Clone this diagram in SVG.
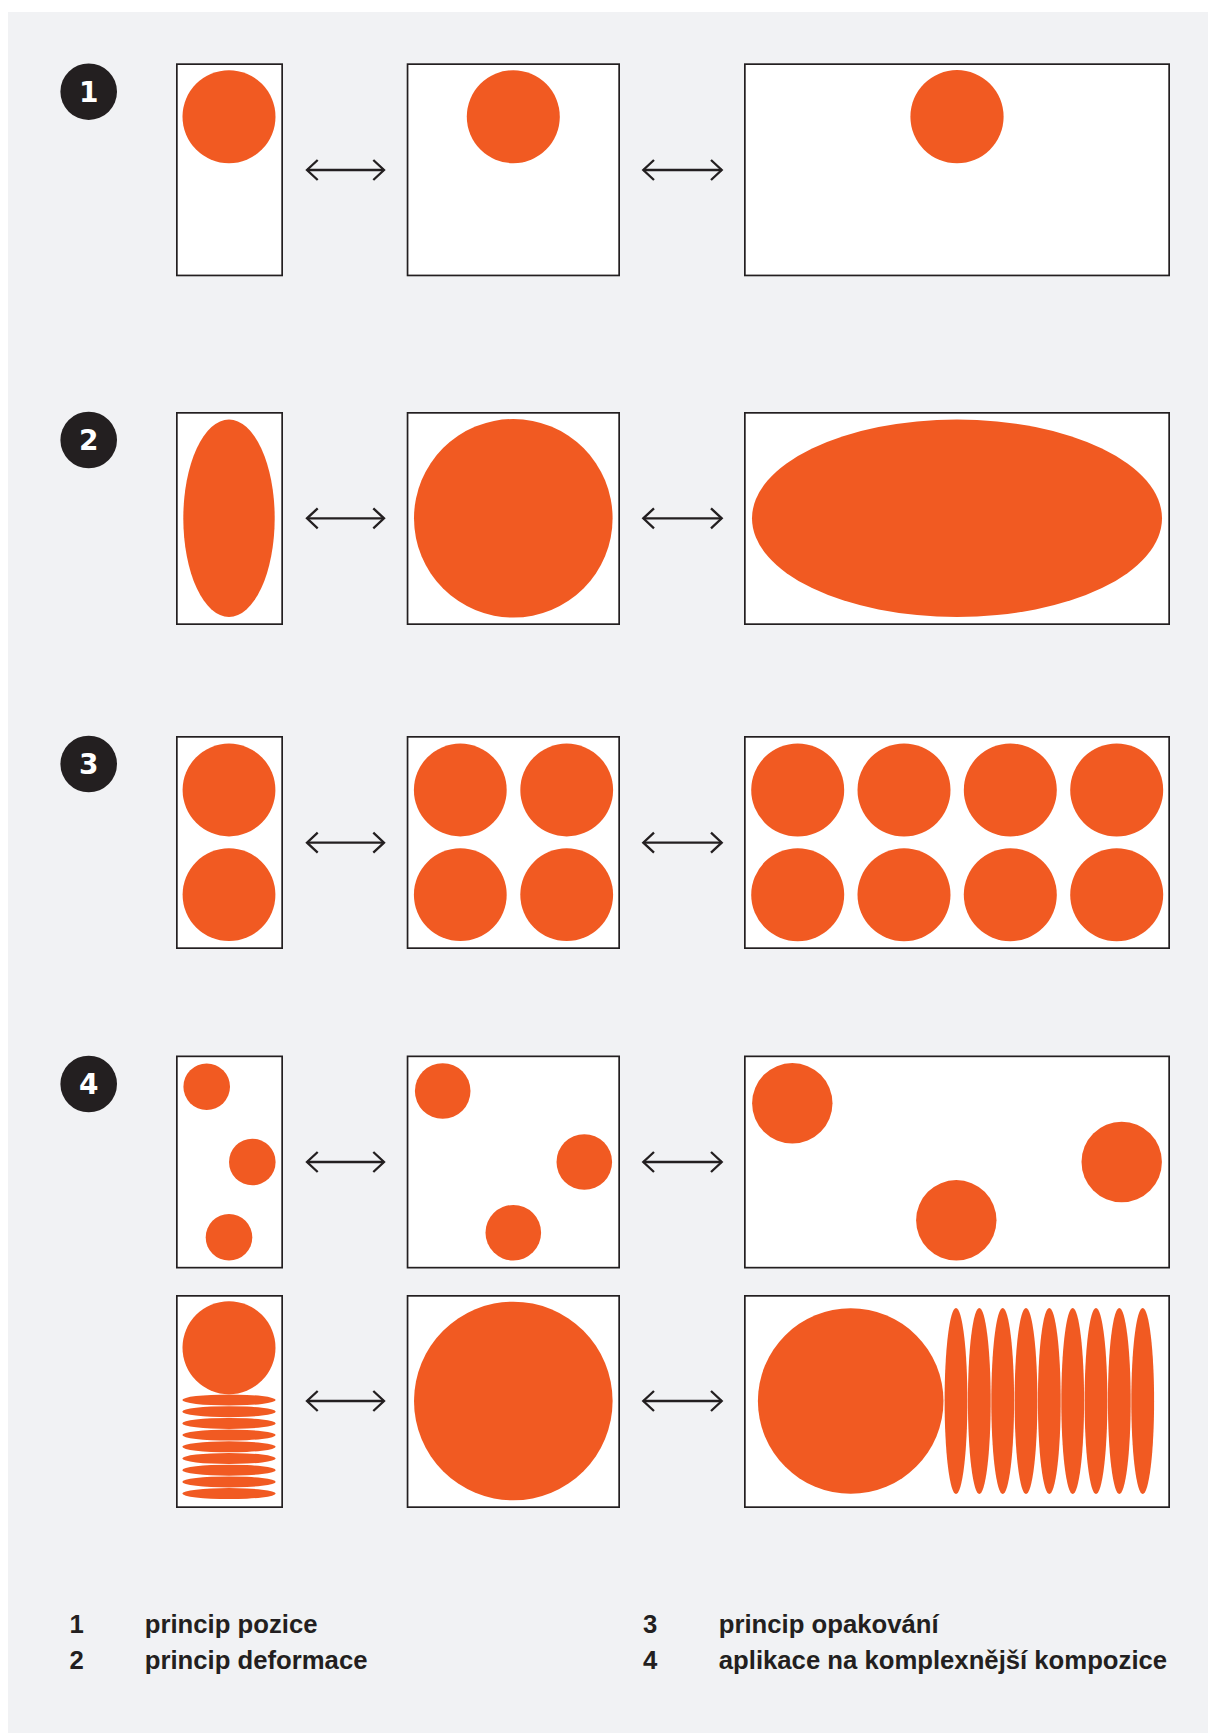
<svg xmlns="http://www.w3.org/2000/svg" width="1208" height="1733" viewBox="0 0 1208 1733">
<defs>
<style>
.frame{fill:#ffffff;stroke:#231f20;stroke-width:1.7}
.dot{fill:#f15a22}
.badge{fill:#231f20}
.bnum{font-family:"DejaVu Sans",sans-serif;font-weight:bold;font-size:28px;fill:#ffffff;text-anchor:middle}
.arrow{stroke:#231f20;stroke-width:2.3;fill:none;marker-start:url(#chev);marker-end:url(#chev)}
.leg{font-family:"Liberation Sans",Arial,sans-serif;font-weight:bold;font-size:25.7px;fill:#231f20}
</style>
<marker id="chev" viewBox="-13 -12 15 24" markerWidth="15" markerHeight="24" refX="0" refY="0" orient="auto-start-reverse" markerUnits="userSpaceOnUse">
<path d="M -10.7 -10 L 0 0 L -10.7 10" fill="none" stroke="#231f20" stroke-width="2.3"/>
</marker>
</defs>
<rect x="0" y="0" width="1208" height="1733" fill="#ffffff"/>
<rect x="8" y="12" width="1200" height="1721" fill="#f1f2f4"/>

<g id="badge-1"><circle class="badge" cx="88.7" cy="91.7" r="28.3"/><text class="bnum" x="88.7" y="101.5">1</text></g>
<g id="badge-2"><circle class="badge" cx="88.7" cy="440" r="28.3"/><text class="bnum" x="88.7" y="449.8">2</text></g>
<g id="badge-3"><circle class="badge" cx="88.7" cy="764" r="28.3"/><text class="bnum" x="88.7" y="773.8">3</text></g>
<g id="badge-4"><circle class="badge" cx="88.7" cy="1084" r="28.3"/><text class="bnum" x="88.7" y="1093.8">4</text></g>

<!-- Row 1 -->
<g id="r1c1"><rect class="frame" x="176.85" y="64.15" width="105.3" height="211.3"/><circle class="dot" cx="229" cy="116.7" r="46.5"/></g>
<g id="r1c2"><rect class="frame" x="407.55" y="64.15" width="211.6" height="211.3"/><circle class="dot" cx="513.3" cy="116.7" r="46.5"/></g>
<g id="r1c3"><rect class="frame" x="744.85" y="64.15" width="424.3" height="211.3"/><circle class="dot" cx="957" cy="116.7" r="46.6"/></g>

<!-- Row 2 -->
<g id="r2c1"><rect class="frame" x="176.85" y="412.85" width="105.3" height="211.3"/><ellipse class="dot" cx="229" cy="518.3" rx="45.7" ry="98.7"/></g>
<g id="r2c2"><rect class="frame" x="407.55" y="412.85" width="211.6" height="211.3"/><circle class="dot" cx="513.3" cy="518.3" r="99.3"/></g>
<g id="r2c3"><rect class="frame" x="744.85" y="412.85" width="424.3" height="211.3"/><ellipse class="dot" cx="957" cy="518.3" rx="205" ry="98.7"/></g>

<!-- Row 3 -->
<g id="r3c1"><rect class="frame" x="176.85" y="736.85" width="105.3" height="211.3"/>
<circle class="dot" cx="229" cy="790" r="46.4"/><circle class="dot" cx="229" cy="894.7" r="46.4"/></g>
<g id="r3c2"><rect class="frame" x="407.55" y="736.85" width="211.6" height="211.3"/>
<circle class="dot" cx="460.3" cy="790" r="46.4"/><circle class="dot" cx="566.7" cy="790" r="46.4"/>
<circle class="dot" cx="460.3" cy="894.7" r="46.4"/><circle class="dot" cx="566.7" cy="894.7" r="46.4"/></g>
<g id="r3c3"><rect class="frame" x="744.85" y="736.85" width="424.3" height="211.3"/>
<circle class="dot" cx="797.7" cy="790" r="46.5"/><circle class="dot" cx="904" cy="790" r="46.5"/>
<circle class="dot" cx="1010.3" cy="790" r="46.5"/><circle class="dot" cx="1116.7" cy="790" r="46.5"/>
<circle class="dot" cx="797.7" cy="894.7" r="46.5"/><circle class="dot" cx="904" cy="894.7" r="46.5"/>
<circle class="dot" cx="1010.3" cy="894.7" r="46.5"/><circle class="dot" cx="1116.7" cy="894.7" r="46.5"/></g>

<!-- Row 4a -->
<g id="r4ac1"><rect class="frame" x="176.85" y="1056.35" width="105.3" height="211.3"/>
<circle class="dot" cx="206.7" cy="1086.7" r="23.3"/><circle class="dot" cx="252.3" cy="1162" r="23.3"/><circle class="dot" cx="229" cy="1237.3" r="23.3"/></g>
<g id="r4ac2"><rect class="frame" x="407.55" y="1056.35" width="211.6" height="211.3"/>
<circle class="dot" cx="442.7" cy="1091" r="27.8"/><circle class="dot" cx="584.3" cy="1162" r="27.8"/><circle class="dot" cx="513.3" cy="1232.7" r="27.8"/></g>
<g id="r4ac3"><rect class="frame" x="744.85" y="1056.35" width="424.3" height="211.3"/>
<circle class="dot" cx="792.3" cy="1103.3" r="40.2"/><circle class="dot" cx="1121.7" cy="1162" r="40.2"/><circle class="dot" cx="956.3" cy="1220.3" r="40.2"/></g>

<!-- Row 4b -->
<g id="r4bc1"><rect class="frame" x="176.85" y="1295.85" width="105.3" height="211.3"/>
<circle class="dot" cx="229" cy="1347.7" r="46.5"/>
<ellipse class="dot" cx="229" cy="1400" rx="46.7" ry="5.5"/>
<ellipse class="dot" cx="229" cy="1411.7" rx="46.7" ry="5.5"/>
<ellipse class="dot" cx="229" cy="1423.4" rx="46.7" ry="5.5"/>
<ellipse class="dot" cx="229" cy="1435.1" rx="46.7" ry="5.5"/>
<ellipse class="dot" cx="229" cy="1446.8" rx="46.7" ry="5.5"/>
<ellipse class="dot" cx="229" cy="1458.5" rx="46.7" ry="5.5"/>
<ellipse class="dot" cx="229" cy="1470.2" rx="46.7" ry="5.5"/>
<ellipse class="dot" cx="229" cy="1481.9" rx="46.7" ry="5.5"/>
<ellipse class="dot" cx="229" cy="1493.6" rx="46.7" ry="5.5"/></g>
<g id="r4bc2"><rect class="frame" x="407.55" y="1295.85" width="211.6" height="211.3"/>
<circle class="dot" cx="513.3" cy="1401" r="99.3"/></g>
<g id="r4bc3"><rect class="frame" x="744.85" y="1295.85" width="424.3" height="211.3"/>
<circle class="dot" cx="850.7" cy="1401" r="92.8"/>
<ellipse class="dot" cx="956" cy="1401" rx="11.4" ry="93"/>
<ellipse class="dot" cx="979.3" cy="1401" rx="11.4" ry="93"/>
<ellipse class="dot" cx="1002.7" cy="1401" rx="11.4" ry="93"/>
<ellipse class="dot" cx="1026" cy="1401" rx="11.4" ry="93"/>
<ellipse class="dot" cx="1049.3" cy="1401" rx="11.4" ry="93"/>
<ellipse class="dot" cx="1072.7" cy="1401" rx="11.4" ry="93"/>
<ellipse class="dot" cx="1096" cy="1401" rx="11.4" ry="93"/>
<ellipse class="dot" cx="1119.3" cy="1401" rx="11.4" ry="93"/>
<ellipse class="dot" cx="1142.7" cy="1401" rx="11.4" ry="93"/></g>

<g id="connectors">
<line class="arrow" x1="307" y1="170" x2="384" y2="170"/>
<line class="arrow" x1="643.3" y1="170" x2="721.7" y2="170"/>
<line class="arrow" x1="307" y1="518.3" x2="384" y2="518.3"/>
<line class="arrow" x1="643.3" y1="518.3" x2="721.7" y2="518.3"/>
<line class="arrow" x1="307" y1="842.7" x2="384" y2="842.7"/>
<line class="arrow" x1="643.3" y1="842.7" x2="721.7" y2="842.7"/>
<line class="arrow" x1="307" y1="1162" x2="384" y2="1162"/>
<line class="arrow" x1="643.3" y1="1162" x2="721.7" y2="1162"/>
<line class="arrow" x1="307" y1="1401" x2="384" y2="1401"/>
<line class="arrow" x1="643.3" y1="1401" x2="721.7" y2="1401"/>
</g>

<g id="legend">
<text class="leg" x="69.5" y="1632.5">1</text>
<text class="leg" x="144.8" y="1632.5">princip pozice</text>
<text class="leg" x="69.5" y="1669">2</text>
<text class="leg" x="144.8" y="1669">princip deformace</text>
<text class="leg" x="643" y="1632.5">3</text>
<text class="leg" x="718.8" y="1632.5">princip opakování</text>
<text class="leg" x="643" y="1669">4</text>
<text class="leg" x="718.8" y="1669">aplikace na komplexnější kompozice</text>
</g>
</svg>
